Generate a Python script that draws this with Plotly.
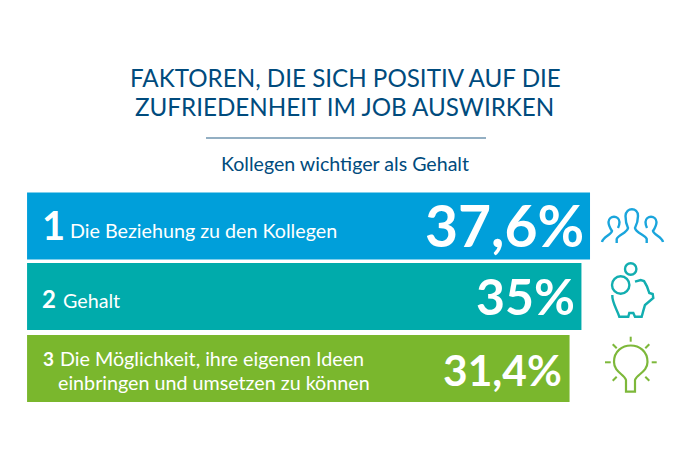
import plotly.graph_objects as go

# Page size in pixels, everything decorative is placed with it
W = 691
H = 454

# Define the bars (top to bottom)
rows = [
    {'rank': '1', 'label': 'Die Beziehung zu den Kollegen', 'value': 37.6, 'text': '37,6%', 'color': '#009FDA', 'pos': 226.0},
    {'rank': '2', 'label': 'Gehalt', 'value': 35.0, 'text': '35%', 'color': '#00ABAB', 'pos': 296.5},
    {'rank': '3', 'label': '', 'value': 31.4, 'text': '31,4%', 'color': '#7AB72D', 'pos': 368.5},
]

# The bars do not start at zero in the picture, they share a long stem
base = -133.0
bar_thick = 67

dark = '#004B7D'
font = 'Lato'


def px(x, y):
    # pixel to paper position
    return x / W, 1 - y / H


def icon_path(points):
    # points are pixel tuples, the first letter of each entry is the SVG command
    out = ''
    for cmd, *xy in points:
        out += cmd
        for i in range(0, len(xy), 2):
            a, b = px(xy[i], xy[i + 1])
            out += f' {a:.5f},{b:.5f} '
    return out


def add_text(fig, x, y, text, size, color='white', bold=False, anchor='left'):
    fig.add_annotation(
        x=x / W, y=1 - y / H,
        xref='paper', yref='paper',
        text=f'<b>{text}</b>' if bold else text,
        showarrow=False,
        xanchor=anchor, yanchor='middle',
        align=anchor,
        font=dict(size=size, color=color, family=font),
    )


# Create the figure
fig = go.Figure()

# Add bars
for row in rows:
    fig.add_trace(go.Bar(
        x=[row['value'] - base],
        y=[row['pos']],
        base=base,
        width=bar_thick,
        orientation='h',
        marker=dict(color=row['color'], line=dict(width=0)),
        showlegend=False,
        hoverinfo='skip',
    ))

# Title block
add_text(fig, 345.5, 77, 'FAKTOREN, DIE SICH POSITIV AUF DIE', 24.2, dark, anchor='center')
add_text(fig, 344.5, 106, 'ZUFRIEDENHEIT IM JOB AUSWIRKEN', 24.2, dark, anchor='center')
add_text(fig, 345, 163, 'Kollegen wichtiger als Gehalt', 19.6, dark, anchor='center')

# Rule under the title
x0, y0 = px(206, 138)
x1, y1 = px(486, 138)
fig.add_shape(type='line', xref='paper', yref='paper', x0=x0, y0=y0, x1=x1, y1=y1,
              line=dict(color='#6F95AF', width=1.3))

# Bar labels
add_text(fig, 40, 225, '1', 40, bold=True)
add_text(fig, 68, 231, 'Die Beziehung zu den Kollegen', 19.7)
add_text(fig, 40, 298, '2', 24, bold=True)
add_text(fig, 61, 300, 'Gehalt', 19.7)
add_text(fig, 41, 358, '3', 19, bold=True)
add_text(fig, 58, 358, 'Die Möglichkeit, ihre eigenen Ideen', 19.7)
add_text(fig, 56, 382, 'einbringen und umsetzen zu können', 19.7)

# Big numbers
add_text(fig, 586, 225, rows[0]['text'], 57, bold=True, anchor='right')
add_text(fig, 577, 296, rows[1]['text'], 50, bold=True, anchor='right')
add_text(fig, 564, 369, rows[2]['text'], 42.5, bold=True, anchor='right')

# People icon
blue = '#1AA5DC'
people = [
    [('M', 616.7, 243), ('L', 616.7, 239), ('C', 618, 235, 627, 233, 628, 228), ('C', 626, 224, 625.5, 220, 625.5, 216),
     ('C', 626, 207, 638, 207, 638, 216), ('C', 638, 220, 637, 224, 635, 228), ('C', 636, 233, 645, 235, 646.7, 239), ('L', 646.7, 243)],
    [('M', 602, 242), ('C', 603, 237, 611, 235, 612, 231), ('C', 610, 228, 608.5, 225, 608.5, 222),
     ('C', 609, 215, 619, 215, 619.5, 222), ('C', 619.5, 224, 619, 226, 618, 228)],
    [('M', 663, 242), ('C', 662, 237, 654, 235, 653, 231), ('C', 655, 228, 656.5, 225, 656.5, 222),
     ('C', 656, 215, 646, 215, 645.5, 222), ('C', 645.5, 224, 646, 226, 647, 228)],
]
for path in people:
    fig.add_shape(type='path', xref='paper', yref='paper', path=icon_path(path),
                  line=dict(color=blue, width=2.4))

# Piggy bank icon
teal = '#12AEB0'
pig = [('M', 612.3, 295), ('C', 612, 303, 617, 309, 619.3, 316.7), ('L', 628.3, 316.7), ('L', 629.3, 313), ('L', 633.3, 313), ('L', 635, 316.7),
       ('L', 641.7, 316.7), ('C', 643, 312, 644, 308, 645, 305), ('L', 653.3, 298), ('L', 652.7, 294), ('L', 649.3, 293),
       ('C', 648, 288, 646, 284, 644, 281), ('L', 640.7, 280), ('L', 635, 281.7)]
fig.add_shape(type='path', xref='paper', yref='paper', path=icon_path(pig), line=dict(color=teal, width=2.4))
for cx, cy, r in [(620.7, 285, 8.7), (630.7, 269, 5.7)]:
    a0, b0 = px(cx - r, cy - r)
    a1, b1 = px(cx + r, cy + r)
    fig.add_shape(type='circle', xref='paper', yref='paper', x0=a0, y0=b0, x1=a1, y1=b1,
                  line=dict(color=teal, width=2.4))

# Light bulb icon
green = '#7DB83A'
bulb = [('M', 626, 380), ('C', 624, 374, 614, 372, 614, 362), ('C', 614, 340, 647.5, 340, 647.5, 362), ('C', 647.5, 372, 637, 374, 635, 380),
        ('L', 635, 391.7), ('L', 626, 391.7), ('Z',)]
fig.add_shape(type='path', xref='paper', yref='paper', path=icon_path(bulb), line=dict(color=green, width=2.2))
rays = [(630.7, 336.7, 630.7, 341.7), (612.7, 344.3, 616.7, 348.3), (649.3, 344.3, 645.3, 348.3), (605, 362.3, 610.7, 362.3),
        (651.7, 362.3, 656.7, 362.3), (612.7, 380.7, 616.7, 376.7), (649.3, 380.7, 645.3, 376.7)]
for xa, ya, xb, yb in rays:
    a0, b0 = px(xa, ya)
    a1, b1 = px(xb, yb)
    fig.add_shape(type='line', xref='paper', yref='paper', x0=a0, y0=b0, x1=a1, y1=b1,
                  line=dict(color=green, width=2))

# Update layout
fig.update_layout(
    width=W,
    height=H,
    margin=dict(l=0, r=0, t=0, b=0),
    barmode='overlay',
    showlegend=False,
    xaxis=dict(
        showgrid=False,
        showticklabels=False,
        zeroline=False,
        range=[-141.2, 68.2]
    ),
    yaxis=dict(
        showgrid=False,
        showticklabels=False,
        zeroline=False,
        range=[H, 0]
    ),
    plot_bgcolor='white',
    paper_bgcolor='white'
)

# Save the chart
fig.write_html('out.html', config=dict(displayModeBar=False), post_script="document.body.style.margin = '0';")
